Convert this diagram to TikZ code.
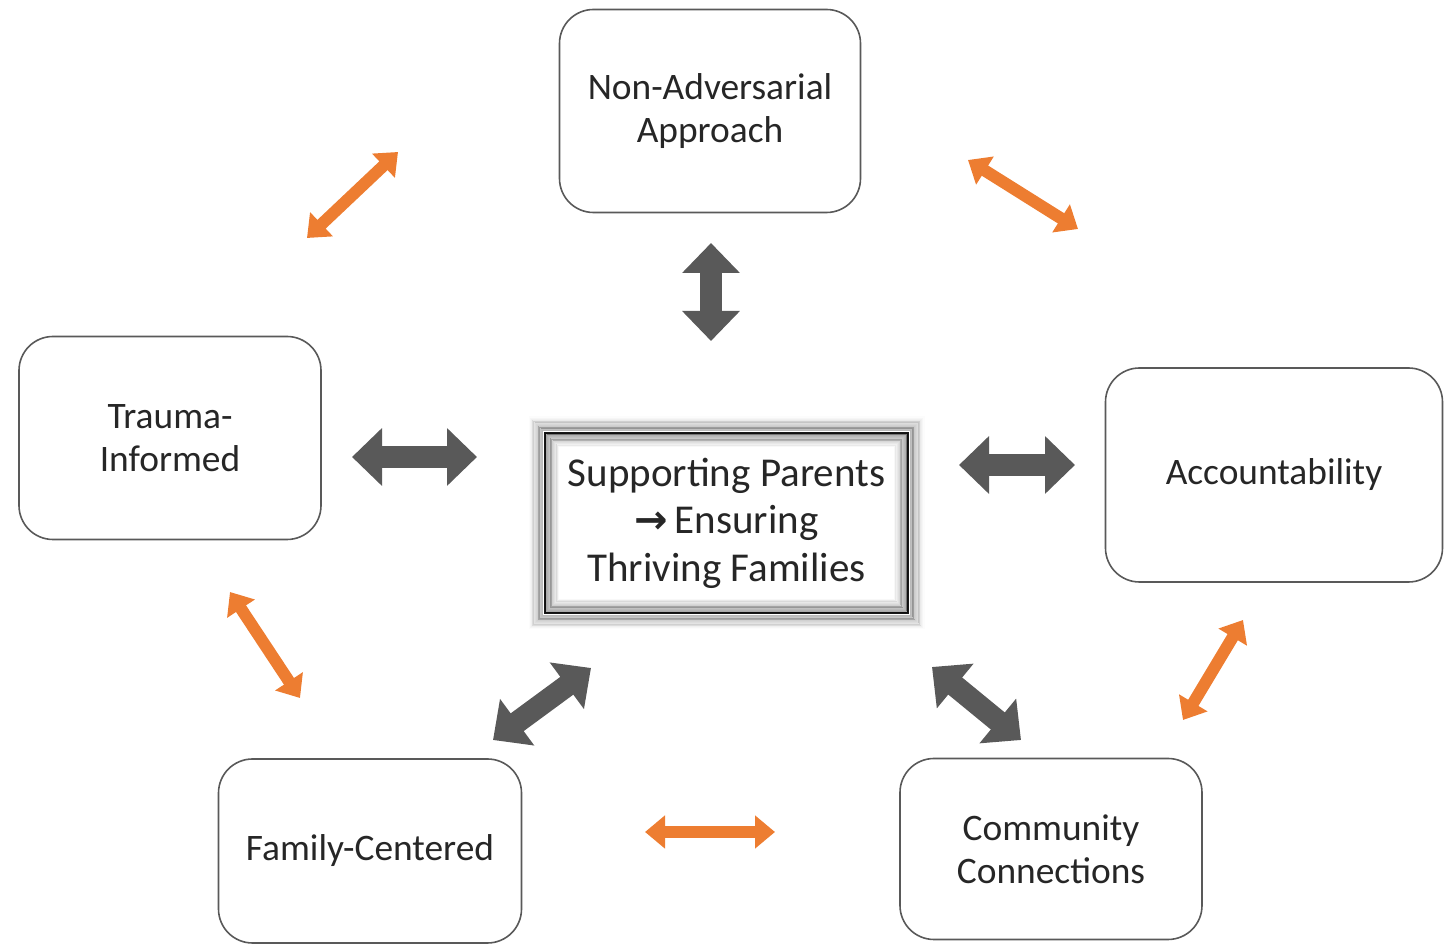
\documentclass[tikz,border=0pt]{standalone}
\usepackage{fontspec}
\setmainfont{Carlito}
\newfontfamily\arrowfont{DejaVu Sans}
\usetikzlibrary{arrows.meta}
\definecolor{linkOrange}{RGB}{237,125,49}
\definecolor{linkGray}{RGB}{89,89,89}
\definecolor{textGray}{RGB}{38,38,38}

\begin{document}
\begin{tikzpicture}[x=0.5pt, y=-0.5pt,
	box/.style={draw=black!65, line width=0.8pt, rounded corners=17pt, align=center, text=textGray, font=\fontsize{18.7}{21.5}\selectfont},
	olink/.style={line width=6pt, linkOrange, {Triangle[length=10pt,width=16pt]}-{Triangle[length=10pt,width=16pt]}},
	glink/.style={line width=11pt, linkGray, {Triangle[length=15pt,width=28pt]}-{Triangle[length=15pt,width=28pt]}}]
	\useasboundingbox (0,0) rectangle (1453,945);
	\node[box, minimum width=150.5pt, minimum height=101.5pt] (nonadv) at (710,111) {Non-Adversarial\\Approach};
	\node[box, minimum width=151pt, minimum height=101.5pt] (trauma) at (170,438) {Trauma-\\Informed};
	\node[box, minimum width=168.5pt, minimum height=107pt] (account) at (1274,475) {Accountability};
	\node[box, minimum width=151.5pt, minimum height=92pt] (family) at (370,851) {Family-Centered};
	\node[box, minimum width=151pt, minimum height=90.5pt] (community) at (1051,849) {Community\\Connections};
	% centre box with soft glow
	\node[draw=black!85, line width=1.3pt, fill=white, minimum width=181.5pt, minimum height=90pt, align=center, text=textGray, font=\fontsize{20.5}{23.8}\selectfont] (mid) at (726.5,523) {Supporting Parents\\{\arrowfont\bfseries\fontsize{20}{20}\selectfont→}\,Ensuring\\Thriving Families};
	\foreach \i in {1,...,12}
		\draw[black, opacity=0.3-\i*0.024, line width=0.8pt] ([shift={(-\i*0.6pt,-\i*0.6pt)}]mid.south west) rectangle ([shift={(\i*0.6pt,\i*0.6pt)}]mid.north east);
	\foreach \i in {1,...,12}
		\draw[black, opacity=0.4-\i*0.031, line width=0.8pt] ([shift={(\i*0.6pt,\i*0.6pt)}]mid.south west) rectangle ([shift={(-\i*0.6pt,-\i*0.6pt)}]mid.north east);
	% orange links between outer boxes
	\coordinate (o1a) at (307,238); \coordinate (o1b) at (398,152);
	\coordinate (o2a) at (968,160); \coordinate (o2b) at (1078,229);
	\coordinate (o3a) at (230,592); \coordinate (o3b) at (300,698);
	\coordinate (o4a) at (1183,720); \coordinate (o4b) at (1243,620);
	\coordinate (o5a) at (645,832); \coordinate (o5b) at (775,832);
	\foreach \k in {1,...,5}
		\draw[olink] (o\k a) -- (o\k b);
	% gray links to the centre
	\coordinate (g1a) at (711,243); \coordinate (g1b) at (711,341);
	\coordinate (g2a) at (352,457); \coordinate (g2b) at (477,457);
	\coordinate (g3a) at (959,465); \coordinate (g3b) at (1075,465);
	\coordinate (g4a) at (493,740); \coordinate (g4b) at (591,668);
	\coordinate (g5a) at (932,667); \coordinate (g5b) at (1021,740);
	\foreach \k in {1,...,5}
		\draw[glink] (g\k a) -- (g\k b);
\end{tikzpicture}
\end{document}
